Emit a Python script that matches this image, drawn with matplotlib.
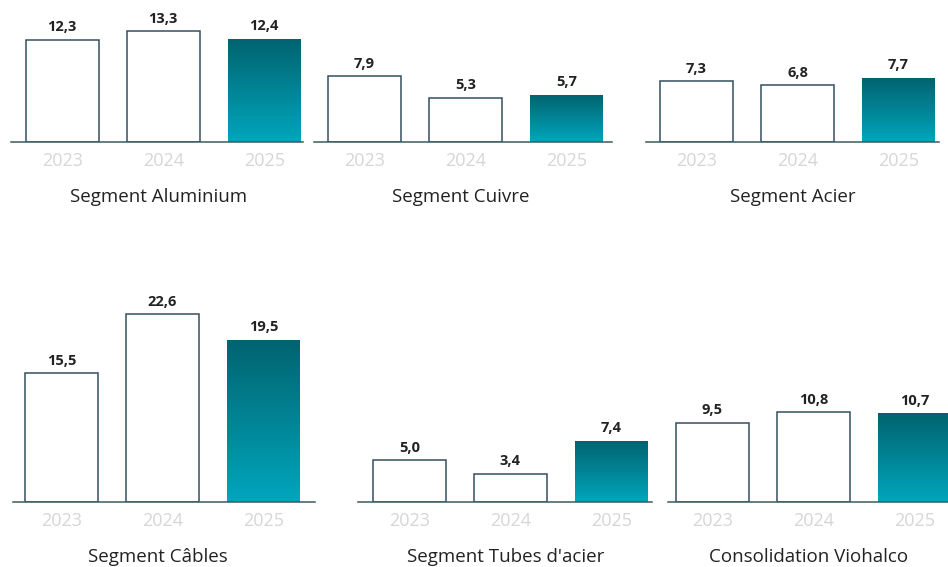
import matplotlib
matplotlib.use("Agg")
import matplotlib.pyplot as plt
import numpy as np
from matplotlib.colors import LinearSegmentedColormap

plt.rcParams["font.family"] = ["Open Sans", "DejaVu Sans"]

years = ["2023", "2024", "2025"]
titles = [
    "Segment Aluminium",
    "Segment Cuivre",
    "Segment Acier",
    "Segment Câbles",
    "Segment Tubes d'acier",
    "Consolidation Viohalco",
]
aluminium = [12.3, 13.3, 12.4]
cuivre = [7.9, 5.3, 5.7]
acier = [7.3, 6.8, 7.7]
cables = [15.5, 22.6, 19.5]
tubes = [5.0, 3.4, 7.4]
viohalco = [9.5, 10.8, 10.7]
values = [aluminium, cuivre, acier, cables, tubes, viohalco]

W, H = 948, 567
PX = 8.31      # pixels per unit
STEP = 101     # pixels between bar centres
BAR_W = 0.72

# layout in pixels: (line start, line end, centre of first bar, baseline y from top, y max)
layout = [
    (11, 303, 62.3, 142, 16),
    (314, 612, 364.5, 142, 16),
    (646, 939, 696.5, 142, 16),
    (13, 315, 61.5, 502, 27),
    (358, 652, 409.5, 502, 27),
    (668, 948, 712.5, 502, 27),
]

edge = "#34505c"
teal = LinearSegmentedColormap.from_list("teal", ["#00a6bd", "#02636f"])
grad = np.linspace(0, 1, 256).reshape(-1, 1)

fig = plt.figure(figsize=(W / 100, H / 100), dpi=100)

for title, vals, (x0, x1, c0, base, ymax) in zip(titles, values, layout):
    ax = fig.add_axes([x0 / W, (H - base) / H, (x1 - x0) / W, ymax * PX / H])
    xs = np.arange(len(vals))
    ax.bar(xs[:2], vals[:2], width=BAR_W, color="white",
           edgecolor=edge, linewidth=1.1, zorder=2)
    last = ax.bar(xs[2], vals[2], width=BAR_W, color="none", linewidth=0, zorder=2)[0]
    im = ax.imshow(grad, extent=[xs[2] - BAR_W / 2, xs[2] + BAR_W / 2, 0, vals[2]],
                   origin="lower", cmap=teal, aspect="auto", zorder=2)
    im.set_clip_path(last)

    ax.set_xlim((x0 - c0) / STEP, (x1 - c0) / STEP)
    ax.set_ylim(0, ymax)
    for s in ["top", "left", "right"]:
        ax.spines[s].set_visible(False)
    ax.spines["bottom"].set_color("#3d5a66")
    ax.spines["bottom"].set_linewidth(1.1)
    ax.spines["bottom"].set_zorder(3)
    ax.set_yticks([])
    ax.set_xticks([])
    ax.patch.set_alpha(0)

    for x, v in zip(xs, vals):
        ax.annotate(f"{v:.1f}".replace(".", ","), xy=(x, v), xytext=(0, 4),
                    textcoords="offset points", ha="center", va="bottom",
                    fontsize=10.5, fontweight="bold", color="#222222",
                    annotation_clip=False)
        ax.annotate(years[x], xy=(x, 0), xytext=(0, -19 * 0.72),
                    textcoords="offset points", ha="center", va="center",
                    fontsize=13, color="#d6d6d6", annotation_clip=False)
    ax.annotate(title, xy=(0.95, 0), xytext=(0, -55 * 0.72),
                textcoords="offset points", ha="center", va="center",
                fontsize=13.5, color="#222222", annotation_clip=False)

fig.savefig("out.png", dpi=100)
